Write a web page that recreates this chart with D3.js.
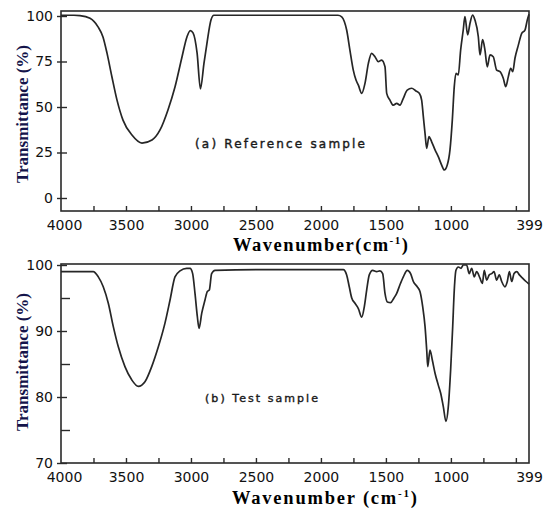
<!DOCTYPE html>
<html>
<head>
<meta charset="utf-8">
<script src="https://cdn.jsdelivr.net/npm/d3@7"></script>
<style>
  body { margin: 0; background: #fff; }
  svg { display: block; }
  .tick text { font-family: "DejaVu Sans", sans-serif; font-size: 14px; fill: #111; }
  .tick line { stroke: #2a2a2a; stroke-width: 1.4; }
  .title { font-family: "Liberation Serif", "Times New Roman", serif; font-weight: bold; }
  .note { font-family: "DejaVu Sans", sans-serif; fill: #1a1a1a; stroke: #1a1a1a; stroke-width: 0.4; }
</style>
</head>
<body>
<svg id="chart" width="547" height="508"></svg>
<script>
// (a) reference sample, wavenumber (cm-1) and transmittance (%)
const refWavenumber = [4000, 3900, 3854, 3777, 3715, 3677, 3646, 3608, 3569, 3523, 3454, 3377, 3300, 3238, 3177, 3123, 3069, 3031, 3005, 2984, 2953, 2927, 2900, 2877, 2846, 2823, 2700, 2400, 2100, 1869, 1840, 1820, 1802, 1777, 1751, 1730, 1712, 1686, 1661, 1635, 1610, 1584, 1559, 1533, 1507, 1494, 1469, 1443, 1417, 1392, 1366, 1336, 1302, 1269, 1243, 1225, 1212, 1199, 1186, 1169, 1148, 1122, 1097, 1071, 1051, 1028, 1007, 989, 974, 961, 943, 925, 905, 892, 871, 853, 833, 815, 789, 776, 756, 738, 720, 699, 674, 648, 622, 597, 578, 558, 540, 524, 507, 481, 455, 430, 412, 399];
const refTransmittance = [100.4, 100.4, 100.2, 98.7, 94, 88.5, 79.6, 66.5, 53.8, 42.8, 34.6, 30.2, 31.9, 37.4, 48.4, 61, 77.5, 88.5, 92, 90.7, 79.7, 60, 74, 85, 97.8, 100.4, 100.4, 100.4, 100.4, 100.4, 99.5, 97, 92.3, 81.3, 70.3, 64.8, 62, 57.5, 63, 74, 79.5, 77.6, 74.9, 75.8, 72.1, 57.5, 53.8, 51, 52, 51, 54.8, 59.3, 60.3, 58.8, 57.5, 53.8, 44.7, 35.5, 27.3, 33.7, 30.9, 26.4, 22.7, 18.1, 15.4, 18.1, 26.4, 42.9, 61.2, 68.5, 67.6, 81.3, 92.3, 99.7, 89.6, 96, 100.5, 97.8, 88.6, 78.6, 87, 81.3, 72.1, 78.6, 77.6, 70.3, 69.4, 65.8, 61.2, 66.7, 71.3, 69.4, 76.8, 84, 90.5, 92.3, 97.8, 101];

// (b) test sample
const testWavenumber = [4000, 3900, 3752, 3713, 3675, 3636, 3598, 3559, 3508, 3456, 3405, 3354, 3302, 3251, 3200, 3161, 3123, 3084, 3033, 3007, 2987, 2969, 2951, 2938, 2917, 2892, 2874, 2859, 2841, 2815, 2500, 2100, 1828, 1802, 1782, 1763, 1738, 1712, 1686, 1666, 1648, 1628, 1602, 1571, 1546, 1525, 1507, 1489, 1463, 1438, 1417, 1392, 1366, 1336, 1310, 1289, 1259, 1238, 1217, 1199, 1186, 1178, 1161, 1143, 1122, 1097, 1079, 1058, 1038, 1020, 1002, 986, 974, 961, 943, 922, 905, 879, 859, 840, 820, 802, 776, 758, 743, 725, 705, 686, 668, 648, 628, 609, 584, 566, 550, 532, 514, 493, 473, 448, 422, 399];
const testTransmittance = [99, 99, 99, 98.2, 96.7, 94.2, 90.7, 87.6, 84.6, 82.6, 81.6, 82.3, 84.6, 87.6, 91.2, 94.7, 98.2, 99.1, 99.5, 99.5, 98.7, 95.7, 92.2, 90.4, 92.7, 94.7, 96, 96.2, 98.7, 99.2, 99.3, 99.3, 99.3, 98.5, 96.7, 95, 94.2, 93.4, 92.1, 93.7, 96.2, 98.5, 99.2, 99, 99.1, 98.7, 95.7, 94.4, 94.3, 95, 95.7, 97, 98.2, 99.2, 98.7, 97.5, 96.7, 96, 93.7, 90.7, 87.1, 84.6, 87.1, 85.6, 83.6, 81.8, 80.6, 78.5, 76.3, 78.5, 84.1, 90.7, 96.2, 99.2, 99.7, 99.5, 100, 100, 98.7, 99.5, 98.2, 99, 98, 97.2, 99.2, 97.7, 98.5, 98.7, 99, 97.7, 98.5, 97.5, 96.7, 97.5, 99, 97.5, 98.7, 99, 98.5, 98, 97.5, 97.1];

// axis ticks and labels
const xMinorTicks = [3750, 3500, 3250, 3000, 2750, 2500, 2250, 2000, 1750, 1500, 1250, 1000, 750, 500];
const xTickLabels = [4000, 3500, 3000, 2500, 2000, 1500, 1000, 399];
const refYTicks = [0, 25, 50, 75, 100];
const testYTicks = [70, 80, 90, 100];
const testYMinor = [75, 85, 95];

const svg = d3.select("#chart");

const x = d3.scaleLinear().domain([4000, 399]).range([61, 529]);

const panels = [
  { wn: refWavenumber, tr: refTransmittance, top: 11, bottom: 211,
    y: d3.scaleLinear().domain([0, 100]).range([198, 16]),
    yTicks: refYTicks, yMinor: [],
    note: "(a) Reference sample", noteX: 195, noteY: 148, noteSize: 12, noteLen: 170,
    yTitleY: 114, xTitle: "Wavenumber(cm", xTitleX: 233, xTitleY: 251, xTitleLen: 175 },
  { wn: testWavenumber, tr: testTransmittance, top: 264, bottom: 463,
    y: d3.scaleLinear().domain([70, 100]).range([463, 265]),
    yTicks: testYTicks, yMinor: testYMinor,
    note: "(b) Test sample", noteX: 205, noteY: 402, noteSize: 11, noteLen: 113,
    yTitleY: 362, xTitle: "Wavenumber (cm", xTitleX: 232, xTitleY: 504, xTitleLen: 185 }
];

panels.forEach(function(p) {
  const g = svg.append("g");

  // frame
  g.append("rect")
    .attr("x", x(4000)).attr("y", p.top)
    .attr("width", x(399) - x(4000)).attr("height", p.bottom - p.top)
    .attr("fill", "none").attr("stroke", "#2a2a2a").attr("stroke-width", 1.6);

  // x ticks pointing inward
  g.append("g")
    .attr("transform", "translate(0," + p.bottom + ")")
    .call(d3.axisBottom(x).tickValues(xMinorTicks).tickSize(-5).tickFormat(""))
    .call(function(a) { a.select(".domain").remove(); });

  // x labels
  g.append("g")
    .attr("transform", "translate(0," + p.bottom + ")")
    .call(d3.axisBottom(x).tickValues(xTickLabels).tickSize(0).tickPadding(9).tickFormat(d3.format("d")))
    .call(function(a) {
      a.select(".domain").remove();
      a.selectAll(".tick text").attr("dx", function(d) { return d === 4000 ? 3 : 0; });
    });

  // y ticks and labels
  g.append("g")
    .attr("transform", "translate(" + x(4000) + ",0)")
    .call(d3.axisLeft(p.y).tickValues(p.yTicks).tickSize(4).tickPadding(4).tickFormat(d3.format("d")))
    .call(function(a) {
      a.select(".domain").remove();
      a.selectAll(".tick line").attr("x2", -4).attr("x1", 6);
    });

  if (p.yMinor.length) {
    g.append("g")
      .attr("transform", "translate(" + x(4000) + ",0)")
      .call(d3.axisLeft(p.y).tickValues(p.yMinor).tickSize(-9).tickFormat(""))
      .call(function(a) { a.select(".domain").remove(); });
  }

  // spectrum
  const data = p.wn.map(function(w, i) { return [w, p.tr[i]]; });
  g.append("path")
    .datum(data)
    .attr("fill", "none")
    .attr("stroke", "#262626")
    .attr("stroke-width", 1.7)
    .attr("stroke-linejoin", "round")
    .attr("d", d3.line()
      .x(function(d) { return x(d[0]); })
      .y(function(d) { return p.y(d[1]); })
      .curve(d3.curveMonotoneX));

  // sample note
  g.append("text")
    .attr("class", "note")
    .attr("x", p.noteX).attr("y", p.noteY)
    .attr("font-size", p.noteSize)
    .attr("textLength", p.noteLen)
    .attr("lengthAdjust", "spacing")
    .text(p.note);

  // y title
  g.append("text")
    .attr("class", "title")
    .attr("transform", "translate(22," + p.yTitleY + ") rotate(-90)")
    .attr("text-anchor", "middle")
    .attr("dominant-baseline", "central")
    .attr("font-size", 17)
    .attr("fill", "#14144a")
    .text("Transmittance (%)");

  // x title with superscript
  const xt = g.append("text")
    .attr("class", "title")
    .attr("x", p.xTitleX).attr("y", p.xTitleY)
    .attr("font-size", 18.5)
    .attr("textLength", p.xTitleLen)
    .attr("lengthAdjust", "spacing")
    .attr("fill", "#000");
  xt.append("tspan").text(p.xTitle);
  xt.append("tspan").attr("font-size", 11).attr("dy", -7).text("-1");
  xt.append("tspan").attr("dy", 7).text(")");
});
</script>
</body>
</html>
